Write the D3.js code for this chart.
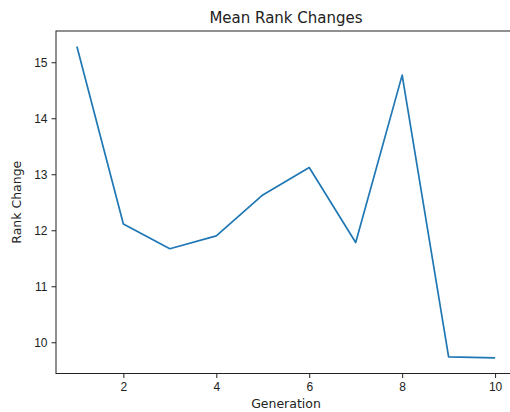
<!DOCTYPE html>
<html>
<head>
<meta charset="utf-8">
<script src="https://cdn.jsdelivr.net/npm/d3@7"></script>
<style>
  body { margin: 0; background: #fff; }
  svg { display: block; font-family: "DejaVu Sans", sans-serif; }
  .axis text { font-size: 12px; fill: #222; }
  .axis path, .axis line { stroke: #222; }
</style>
</head>
<body>
<script>
// data
var generations = [1, 2, 3, 4, 5, 6, 7, 8, 9, 10];
var rankChange = [15.28, 12.11, 11.67, 11.90, 12.63, 13.12, 11.78, 14.77, 9.74, 9.72];
var xTicks = [2, 4, 6, 8, 10];
var yTicks = [10, 11, 12, 13, 14, 15];

var W = 510, H = 412;
var margin = {top: 31, right: -6, bottom: 38.5, left: 56}
, width = W - margin.left - margin.right
, height = H - margin.top - margin.bottom;

// matplotlib style 5% padding
var xPad = (d3.max(generations) - d3.min(generations)) * 0.05;
var yPad = (d3.max(rankChange) - d3.min(rankChange)) * 0.05;

var xScale = d3.scaleLinear()
  .domain([d3.min(generations) - xPad, d3.max(generations) + xPad])
  .range([0, width]);

var yScale = d3.scaleLinear()
  .domain([d3.min(rankChange) - yPad, d3.max(rankChange) + yPad])
  .range([height, 0]);

var svg = d3.select("body")
  .append("svg")
  .attr("width", W)
  .attr("height", H);

var g = svg.append("g")
  .attr("transform", "translate(" + margin.left + "," + margin.top + ")");

// frame
g.append("rect")
  .attr("width", width)
  .attr("height", height)
  .attr("fill", "none")
  .attr("stroke", "#222")
  .attr("stroke-width", 1);

g.append("g")
  .attr("class", "x axis")
  .attr("transform", "translate(0," + height + ")")
  .call(d3.axisBottom(xScale).tickValues(xTicks).tickSize(4.5).tickPadding(4).tickFormat(d3.format("d")))
  .call(function(s) { s.select(".domain").remove(); });

g.append("g")
  .attr("class", "y axis")
  .call(d3.axisLeft(yScale).tickValues(yTicks).tickSize(4.5).tickPadding(4).tickFormat(d3.format("d")))
  .call(function(s) { s.select(".domain").remove(); });

var line = d3.line()
  .x(function(d, i) { return xScale(generations[i]); })
  .y(function(d) { return yScale(d); });

g.append("path")
  .datum(rankChange)
  .attr("fill", "none")
  .attr("stroke", "#1f77b4")
  .attr("stroke-width", 1.7)
  .attr("stroke-linejoin", "round")
  .attr("d", line);

// title
svg.append("text")
  .attr("x", margin.left + (xScale(10.45) - xScale(0.55)) / 2)
  .attr("y", 23)
  .attr("text-anchor", "middle")
  .style("font-size", "15px")
  .style("fill", "#222")
  .text("Mean Rank Changes");

// axis labels
svg.append("text")
  .attr("x", margin.left + (xScale(10.45) - xScale(0.55)) / 2)
  .attr("y", 408)
  .attr("text-anchor", "middle")
  .style("font-size", "12.5px")
  .style("fill", "#222")
  .text("Generation");

svg.append("text")
  .attr("transform", "rotate(-90)")
  .attr("x", -(margin.top + height / 2))
  .attr("y", 21)
  .attr("text-anchor", "middle")
  .style("font-size", "12.5px")
  .style("fill", "#222")
  .text("Rank Change");
</script>
</body>
</html>
